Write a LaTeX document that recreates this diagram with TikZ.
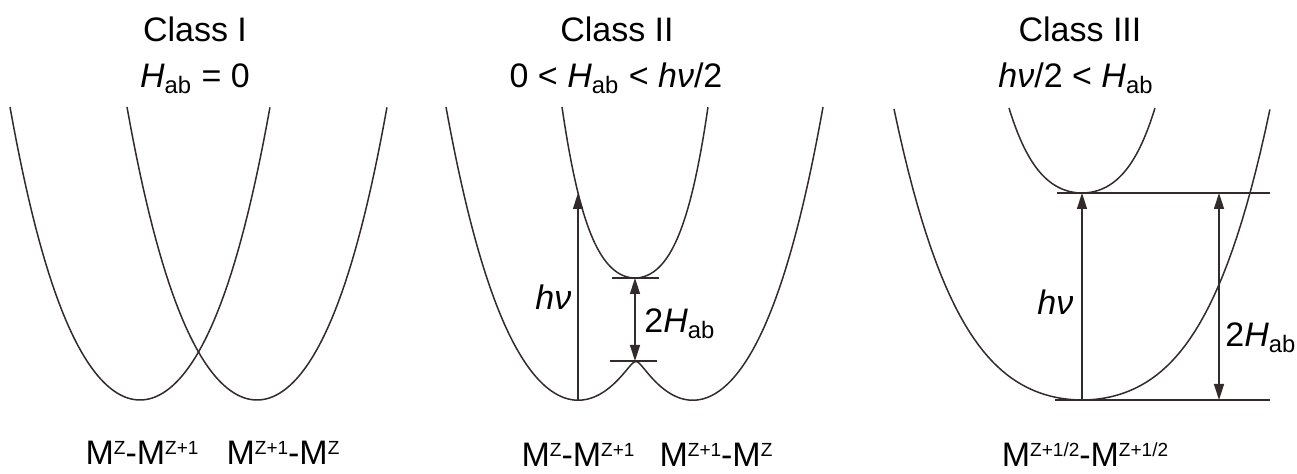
\documentclass[tikz,border=0pt]{standalone}
\usepackage{fontspec}
\setmainfont{Liberation Sans}
\usetikzlibrary{arrows.meta}
\definecolor{linecol}{HTML}{332B2B}
\newcommand{\Hab}{\textit{H}\textsubscript{ab}}
\newcommand{\hnu}{\textit{hν}}
\newcommand{\sups}[1]{\raisebox{5.4pt}{\fontsize{9.5}{10}\selectfont #1}}
\tikzset{
  lbl/.style={font=\fontsize{17}{20}\selectfont, inner sep=0pt, anchor=base},
  side/.style={lbl, anchor=base west},
  curve/.style={draw=linecol, line width=0.75pt},
  level/.style={draw=linecol, line width=0.75pt},
  arr/.style={draw=linecol, line width=0.75pt, -{Triangle[length=8pt,width=5pt]}},
  darr/.style={draw=linecol, line width=0.75pt, {Triangle[length=8pt,width=5pt]}-{Triangle[length=8pt,width=5pt]}},
}
\begin{document}
\begin{tikzpicture}[x=0.5pt, y=-0.5pt,
  declare function={
    shp(\u,\a)=\a*\u*\u+(1-\a)*\u*\u*\u*\u;
    wa(\x)=293*shp((\x-578)/132,0.76);
    wb(\x)=293*shp((\x-693)/130,0.76);
    lowE(\x)=(wa(\x)+wb(\x))/2-100*sqrt(((wa(\x)-wb(\x))/200)*((wa(\x)-wb(\x))/200)+0.0049);
  }]
\useasboundingbox (0,0) rectangle (1297,474);

% titles
\node[lbl] (title1) at (195,42) {Class I};
\node[lbl] (cond1) at (195,88) {\Hab{} = 0};
\node[lbl] (title2) at (617,42) {Class II};
\node[lbl] (cond2) at (616,88) {0 < \Hab{} < \hnu/2};
\node[lbl] (title3) at (1080,42) {Class III};
\node[lbl] (cond3) at (1076,88) {\hnu/2 < \Hab};

% class I
\draw[curve] plot[domain=-1:1, samples=81] ({140+130*\x}, {400-293*shp(\x,0.76)});
\draw[curve] plot[domain=-1:1, samples=81] ({257+130*\x}, {400-293*shp(\x,0.76)});
\node[lbl] (redox1) at (142,465) {M\sups{Z}-M\sups{Z+1}};
\node[lbl] (redox2) at (283,465) {M\sups{Z+1}-M\sups{Z}};

% class II
\draw[curve] plot[domain=446:823, samples=161] (\x, {400-lowE(\x)});
\draw[curve] plot[domain=-1:1, samples=81] ({635+73*\x}, {278-171*shp(\x,0.53)});
\coordinate (low2) at (578,400);
\coordinate (up2) at (578,193);
\draw[arr] (low2) -- (up2);
\coordinate (tickA) at (612,278);
\coordinate (tickB) at (659,278);
\coordinate (tickC) at (610,361);
\coordinate (tickD) at (657,361);
\draw[level] (tickA) -- (tickB);
\draw[level] (tickC) -- (tickD);
\coordinate (gapTop) at (635,278);
\coordinate (gapBot) at (635,361);
\draw[darr] (gapTop) -- (gapBot);
\node[side] (hnu2) at (535,310) {\hnu};
\node[side] (gap2) at (644,333) {2\Hab};
\node[lbl] (redox3) at (578,467) {M\sups{Z}-M\sups{Z+1}};
\node[lbl] (redox4) at (716,467) {M\sups{Z+1}-M\sups{Z}};

% class III
\draw[curve] plot[domain=-1:1, samples=81] ({1082+188*\x}, {400-291*shp(\x,0.46)});
\draw[curve] plot[domain=-1:1, samples=81] ({1082+73*\x}, {193-85*shp(\x,0.6)});
\coordinate (topL) at (1057,193);
\coordinate (topR) at (1270,193);
\coordinate (botL) at (1055,400);
\coordinate (botR) at (1270,400);
\draw[level] (topL) -- (topR);
\draw[level] (botL) -- (botR);
\coordinate (low3) at (1082,400);
\coordinate (up3) at (1082,193);
\draw[arr] (low3) -- (up3);
\coordinate (gapTop3) at (1219,193);
\coordinate (gapBot3) at (1219,400);
\draw[darr] (gapTop3) -- (gapBot3);
\node[side] (hnu3) at (1037,315) {\hnu};
\node[side] (gap3) at (1225,347) {2\Hab};
\node[lbl] (redox5) at (1085,467) {M\sups{Z+1/2}-M\sups{Z+1/2}};
\end{tikzpicture}
\end{document}
